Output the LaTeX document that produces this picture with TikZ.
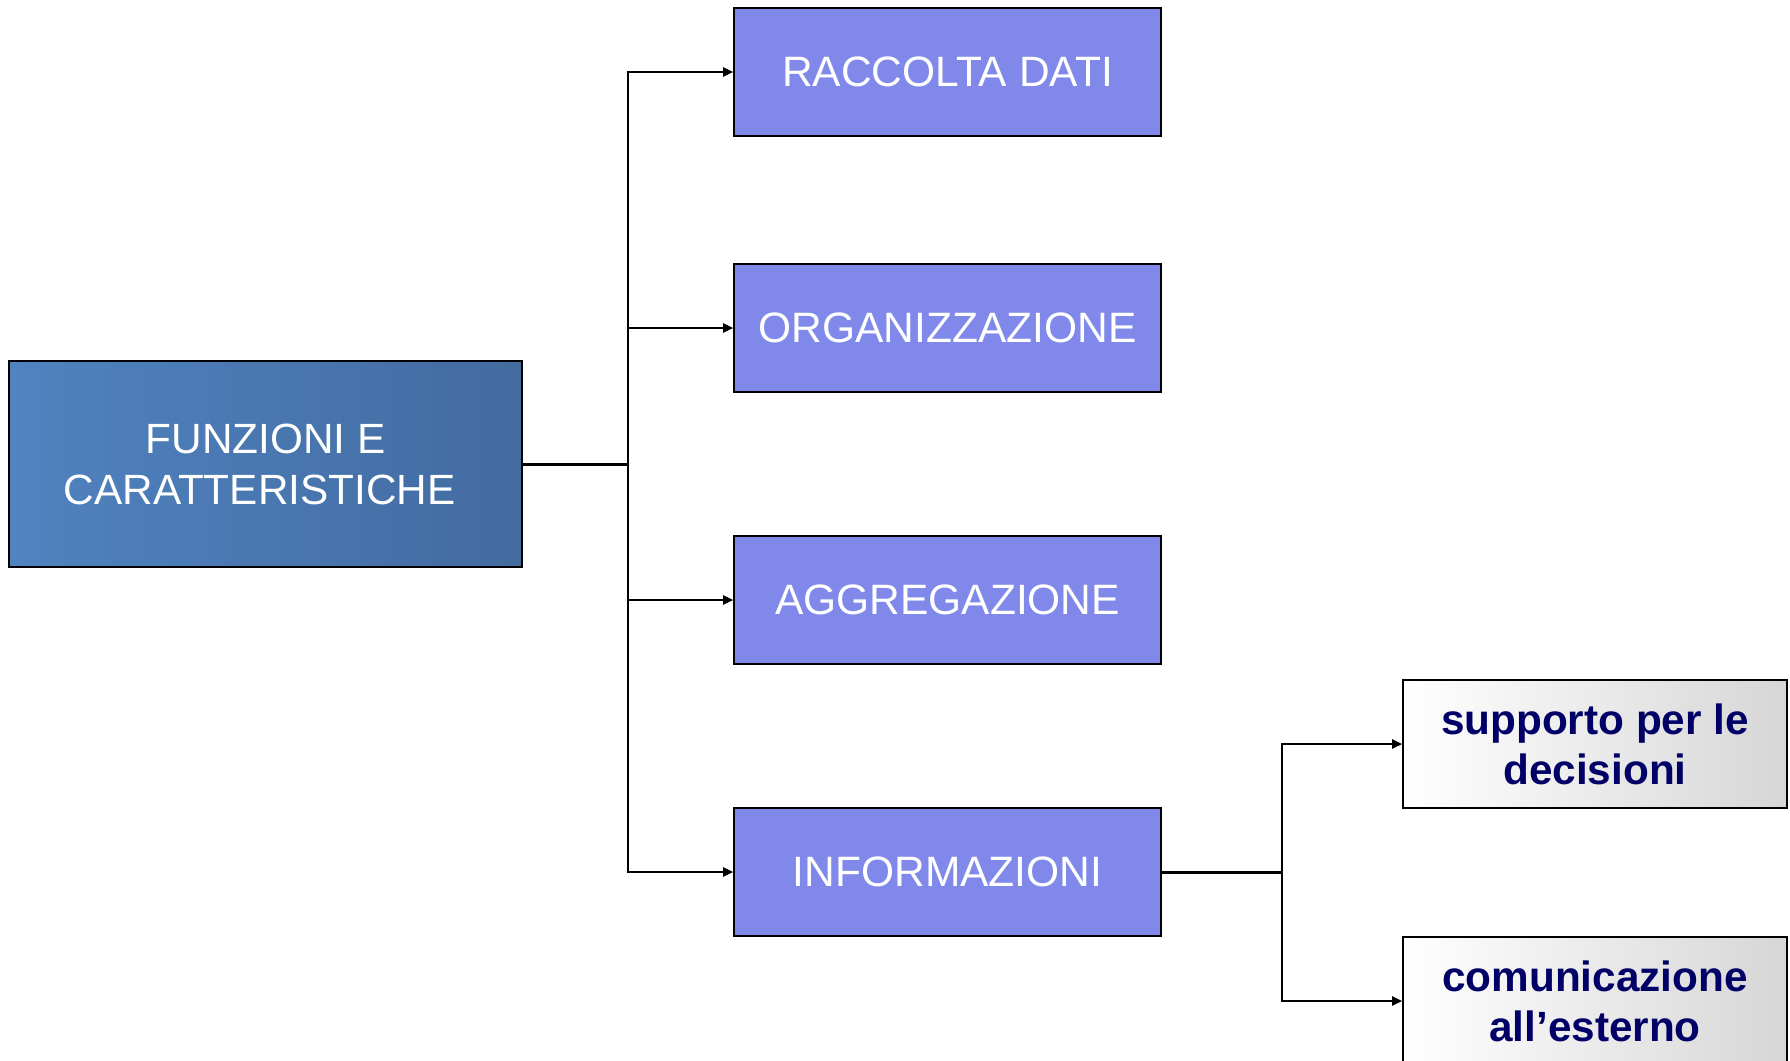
\documentclass[tikz,border=0pt]{standalone}
\usepackage{fontspec}
\setmainfont{Liberation Sans}
\usetikzlibrary{arrows.meta}
\definecolor{mainL}{RGB}{80,131,192}
\definecolor{mainR}{RGB}{66,107,160}
\definecolor{purp}{RGB}{128,137,234}
\definecolor{greyR}{RGB}{214,214,214}
\definecolor{navy}{RGB}{0,0,102}
\begin{document}
\begin{tikzpicture}[x=1pt,y=-1pt,
  box/.style={draw=black,line width=1.6pt,inner sep=0pt,align=center},
  rootbox/.style={box,minimum width=513pt,minimum height=206pt,
    left color=mainL,right color=mainR,text=white,
    font=\fontsize{42.3}{51}\selectfont},
  topicbox/.style={box,minimum width=427pt,minimum height=128pt,
    fill=purp,text=white,font=\fontsize{42.5}{50}\selectfont},
  leafbox/.style={box,minimum width=384pt,minimum height=128pt,
    left color=white,right color=greyR,text=navy,
    font=\fontsize{42.3}{50}\selectfont\bfseries},
  stub/.style={line width=3pt},
  arr/.style={line width=2.2pt,-{Triangle[length=10pt,width=9pt]}}]
\useasboundingbox (0,0) rectangle (1790,1060);
\begin{scope}
\clip (0,0) rectangle (1790,1060);

\node[rootbox] (root) at (265.5,464) {FUNZIONI E\\CARATTERISTICHE\hspace*{0.28em}};

\node[topicbox] (raccolta) at (947.5,72) {RACCOLTA DATI};
\node[topicbox] (organ) at (947.5,328) {ORGANIZZAZIONE};
\node[topicbox] (aggreg) at (947.5,600) {AGGREGAZIONE};
\node[topicbox] (inform) at (947.5,872) {INFORMAZIONI};

\node[leafbox] (supporto) at (1595,744) {supporto per le\\decisioni};
\node[leafbox] (comunic) at (1595,1001) {comunicazione\\all’esterno};

% branching from the root
\coordinate (j1) at (628,464);
\draw[stub] (root.east) -- (j1);
\draw[arr] (j1) |- (raccolta.west);
\draw[arr] (j1) |- (organ.west);
\draw[arr] (j1) |- (aggreg.west);
\draw[arr] (j1) |- (inform.west);

% branching from INFORMAZIONI
\coordinate (j2) at (1282,872);
\draw[stub] (inform.east) -- (j2);
\draw[arr] (j2) |- (supporto.west);
\draw[arr] (j2) |- (comunic.west);
\end{scope}
\end{tikzpicture}
\end{document}
